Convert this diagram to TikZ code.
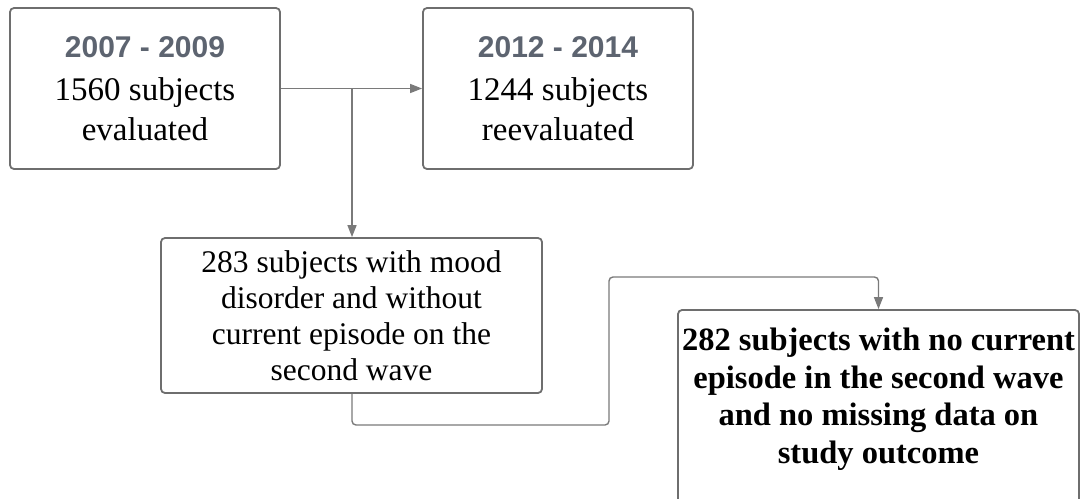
\documentclass[tikz,border=0pt]{standalone}
\usepackage{fontspec}
\setmainfont{Liberation Serif}
\setsansfont{Liberation Sans}
\usetikzlibrary{arrows.meta}
\definecolor{boxline}{HTML}{6E6E6E}
\definecolor{connc}{HTML}{7A7A7A}
\definecolor{hdrc}{HTML}{5D6470}
\begin{document}
\begin{tikzpicture}[x=1pt,y=-1pt,
  box/.style={draw=boxline, line width=1.8pt, rounded corners=4pt, align=center, inner sep=0pt},
  conn/.style={draw=connc, line width=1.4pt, rounded corners=4pt},
  arr/.style={-{Triangle[length=12pt,width=9pt]}},
  hdr/.style={},
]
\useasboundingbox (0,0) rectangle (1087,498);
\newcommand{\hdrtext}[1]{{\sffamily\bfseries\fontsize{30}{40}\selectfont\color{hdrc}#1}}
\node[box, minimum width=270pt, minimum height=161pt, font=\fontsize{33}{40}\selectfont] (b1) at (145,88.5)
  {\hdrtext{2007 - 2009}\\[3pt] 1560 subjects\\ evaluated};
\node[box, minimum width=270pt, minimum height=161pt, font=\fontsize{33}{40}\selectfont] (b2) at (558,88.5)
  {\hdrtext{2012 - 2014}\\[3pt] 1244 subjects\\ reevaluated};
\node[box, minimum width=381pt, minimum height=155pt, font=\fontsize{31.5}{36}\selectfont] (b3) at (351.5,315.5)
  {283 subjects with mood\\ disorder and without\\ current episode on the\\ second wave};
\node[box, minimum width=401pt, minimum height=200pt] (b4) at (878.5,410) {};
\node[align=center, inner sep=0pt, font=\bfseries\fontsize{32.5}{37.5}\selectfont] (t4) at (878.5,399)
  {282 subjects with no current\\ episode in the second wave\\ and no missing data on\\ study outcome};
\coordinate (split) at (352,88.5);
\coordinate (low) at (352,425);
\coordinate (mid) at (609,425);
\coordinate (high) at (609,277);
\draw[conn, arr] (b1.east) -- (b2.west);
\draw[conn, arr] (split) -- (split |- b3.north);
\draw[conn, arr] (b3.south -| low) -- (low) -- (mid) -- (high) -- (high -| b4.north) -- (b4.north);
\end{tikzpicture}
\end{document}
